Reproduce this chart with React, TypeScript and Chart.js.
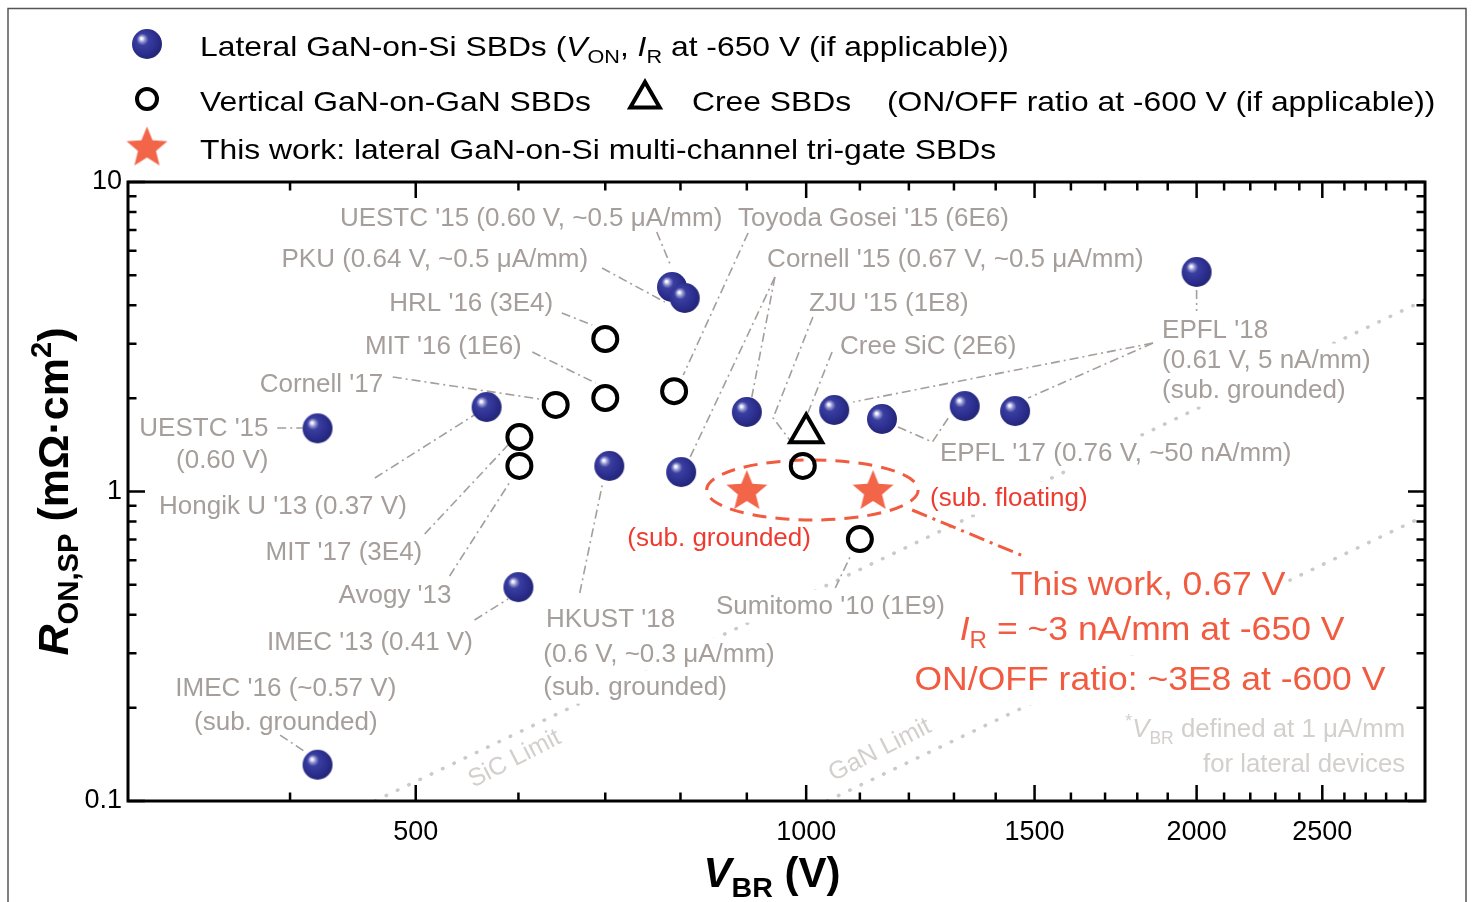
import React, { useEffect, useRef } from 'react';
import { Chart, registerables } from 'chart.js';

Chart.register(...registerables);

// ---------------- data (V_BR in V, R_ON,SP in mOhm.cm2) ----------------
const lateralGaNOnSi = [
  { x: 420, y: 1.6 },
  { x: 420, y: 0.131 },
  { x: 567, y: 1.875 },
  { x: 600, y: 0.491 },
  { x: 705, y: 1.21 },
  { x: 788, y: 4.58 },
  { x: 806, y: 4.22 },
  { x: 801, y: 1.156 },
  { x: 900, y: 1.807 },
  { x: 1051, y: 1.834 },
  { x: 1144, y: 1.715 },
  { x: 1325, y: 1.889 },
  { x: 1449, y: 1.82 },
  { x: 2000, y: 5.12 },
];
const verticalGaNOnGaN = [
  { x: 700, y: 3.11 },
  { x: 700, y: 2.005 },
  { x: 641, y: 1.904 },
  { x: 601, y: 1.5 },
  { x: 601, y: 1.21 },
  { x: 791, y: 2.11 },
  { x: 994, y: 1.21 },
  { x: 1100, y: 0.702 },
];
const creeSBDs = [{ x: 1000, y: 1.545 }];
const thisWork = [
  { x: 900, y: 1.0 },
  { x: 1126, y: 1.0 },
];
const sicLimit = [
  { x: 465, y: 0.1 },
  { x: 3000, y: 4.16 },
];
const ganLimit = [
  { x: 1038, y: 0.1 },
  { x: 3000, y: 0.835 },
];

const xMajorTicks = [500, 1000, 1500, 2000, 2500];
const xMinorTicks = [400, 600, 700, 800, 900, 1100, 1200, 1300, 1400, 1600, 1700, 1800, 1900, 2100, 2200, 2300, 2400, 2600, 2700, 2800, 2900];
const yMajorTicks = [0.1, 1, 10];
const yMinorTicks = [0.2, 0.3, 0.4, 0.5, 0.6, 0.7, 0.8, 0.9, 2, 3, 4, 5, 6, 7, 8, 9];

type Seg = string | { t: string; it?: boolean; sub?: boolean; sup?: boolean };
type Label = { parts: string | Seg[]; x: number; y: number; align: 'left' | 'right' | 'center' };

// annotation labels, anchored in data space (x = edge/centre per align, y = text middle)
const grayLabels: Label[] = [
  { parts: "UESTC '15 (0.60 V, ~0.5 μA/mm)", x: 437, y: 7.71, align: 'left' },
  { parts: "Toyoda Gosei '15 (6E6)", x: 886, y: 7.71, align: 'left' },
  { parts: 'PKU (0.64 V, ~0.5 μA/mm)', x: 394, y: 5.68, align: 'left' },
  { parts: "Cornell '15 (0.67 V, ~0.5 μA/mm)", x: 933, y: 5.68, align: 'left' },
  { parts: "HRL '16 (3E4)", x: 477, y: 4.096, align: 'left' },
  { parts: "ZJU '15 (1E8)", x: 1005, y: 4.096, align: 'left' },
  { parts: "MIT '16 (1E6)", x: 457, y: 2.974, align: 'left' },
  { parts: 'Cree SiC (2E6)', x: 1062, y: 2.99, align: 'left' },
  { parts: "Cornell '17", x: 379, y: 2.242, align: 'left' },
  { parts: "UESTC '15", x: 385, y: 1.616, align: 'right' },
  { parts: '(0.60 V)', x: 385, y: 1.274, align: 'right' },
  { parts: "EPFL '18", x: 1881, y: 3.35, align: 'left' },
  { parts: '(0.61 V, 5 nA/mm)', x: 1881, y: 2.681, align: 'left' },
  { parts: '(sub. grounded)', x: 1881, y: 2.144, align: 'left' },
  { parts: "Hongik U '13 (0.37 V)", x: 317, y: 0.9044, align: 'left' },
  { parts: "EPFL '17 (0.76 V, ~50 nA/mm)", x: 1268, y: 1.341, align: 'left' },
  { parts: "MIT '17 (3E4)", x: 383, y: 0.6425, align: 'left' },
  { parts: "Avogy '13", x: 436, y: 0.4665, align: 'left' },
  { parts: "IMEC '13 (0.41 V)", x: 384, y: 0.3289, align: 'left' },
  { parts: "IMEC '16 (~0.57 V)", x: 397, y: 0.2335, align: 'center' },
  { parts: '(sub. grounded)', x: 397, y: 0.1813, align: 'center' },
  { parts: "HKUST '18", x: 630, y: 0.3902, align: 'left' },
  { parts: '(0.6 V, ~0.3 μA/mm)', x: 627, y: 0.3008, align: 'left' },
  { parts: '(sub. grounded)', x: 627, y: 0.2352, align: 'left' },
  { parts: "Sumitomo '10 (1E9)", x: 852, y: 0.43, align: 'left' },
];
const redSubLabels: Label[] = [
  { parts: '(sub. grounded)', x: 728, y: 0.7127, align: 'left' },
  { parts: '(sub. floating)', x: 1246, y: 0.96, align: 'left' },
];
const redMainLabels: Label[] = [
  { parts: 'This work, 0.67 V', x: 1835, y: 0.506, align: 'center' },
  { parts: [{ t: 'I', it: true }, { t: 'R', sub: true }, ' = ~3 nA/mm at -650 V'], x: 1848, y: 0.362, align: 'center' },
  { parts: 'ON/OFF ratio: ~3E8 at -600 V', x: 1841, y: 0.2496, align: 'center' },
];
const footnoteLabels: Label[] = [
  { parts: [{ t: '*', sup: true }, { t: 'V', it: true }, { t: 'BR', sub: true }, ' defined at 1 μA/mm'], x: 2896, y: 0.172, align: 'right' },
  { parts: 'for lateral devices', x: 2896, y: 0.1327, align: 'right' },
];
const limitLabels = [
  { text: 'SiC Limit', x: 596, y: 0.1367 },
  { text: 'GaN Limit', x: 1140, y: 0.146 },
];

// dash-dot leader lines (data space)
const leaderLines = [
  [{ x: 391, y: 1.604 }, { x: 409, y: 1.604 }],
  [{ x: 465, y: 1.106 }, { x: 558, y: 1.793 }],
  [{ x: 508, y: 0.729 }, { x: 589, y: 1.413 }],
  [{ x: 531, y: 0.5333 }, { x: 591, y: 1.073 }],
  [{ x: 555, y: 0.3844 }, { x: 589, y: 0.4494 }],
  [{ x: 393, y: 0.1633 }, { x: 411, y: 0.144 }],
  [{ x: 480, y: 2.344 }, { x: 623, y: 1.99 }],
  [{ x: 615, y: 2.823 }, { x: 688, y: 2.242 }],
  [{ x: 648, y: 3.773 }, { x: 684, y: 3.451 }],
  [{ x: 696, y: 5.274 }, { x: 778, y: 4.096 }],
  [{ x: 767, y: 6.893 }, { x: 787, y: 5.314 }],
  [{ x: 902, y: 6.842 }, { x: 804, y: 2.379 }],
  [{ x: 946, y: 4.932 }, { x: 814, y: 1.293 }],
  [{ x: 946, y: 4.932 }, { x: 908, y: 2.02 }],
  [{ x: 1012, y: 3.664 }, { x: 943, y: 1.728 }, { x: 975, y: 1.435 }],
  [{ x: 1047, y: 2.823 }, { x: 1003, y: 1.793 }],
  [{ x: 1851, y: 3.018 }, { x: 1087, y: 1.946 }],
  [{ x: 1851, y: 3.018 }, { x: 1483, y: 2.005 }],
  [{ x: 2000, y: 4.477 }, { x: 2000, y: 3.831 }],
  [{ x: 1177, y: 1.616 }, { x: 1251, y: 1.445 }, { x: 1287, y: 1.728 }],
  [{ x: 669, y: 0.47 }, { x: 697, y: 1.073 }],
  [{ x: 1053, y: 0.4878 }, { x: 1081, y: 0.6143 }],
];
const thisWorkLeader = [{ x: 1207, y: 0.8714 }, { x: 1470, y: 0.619 }];
const thisWorkEllipse = { xMin: 838, xMax: 1220, yMin: 0.809, yMax: 1.264 };

// ---------------- styling ----------------
const FAMILY = '"Liberation Sans", Arial, Helvetica, sans-serif';
const GRAY = '#a59e9a';
const LIGHT = '#d3cfcd';
const DOTS = '#cdc9c7';
const RED = '#f15b40';
const RED2 = '#ee3b30';
const STAR = '#f26549';

function norm(parts: string | Seg[]) {
  const arr = typeof parts === 'string' ? [parts] : parts;
  return arr.map((p) => (typeof p === 'string' ? { t: p } : p)) as { t: string; it?: boolean; sub?: boolean; sup?: boolean }[];
}
function segStyle(p: any, size: number, bold?: boolean) {
  const s = p.sub || p.sup ? size * 0.68 : size;
  const dy = p.sub ? size * 0.24 : p.sup ? -size * 0.4 : 0;
  return { font: `${p.it ? 'italic ' : ''}${bold ? 'bold ' : ''}${s}px ${FAMILY}`, dy };
}
function textRun(
  ctx: CanvasRenderingContext2D,
  parts: string | Seg[],
  x: number,
  y: number,
  o: { size: number; color: string; align: 'left' | 'right' | 'center'; bold?: boolean; sx?: number; bg?: [number, number] }
) {
  const segs = norm(parts);
  const sx = o.sx ?? 1;
  const ws: number[] = [];
  let w = 0;
  segs.forEach((p) => {
    ctx.font = segStyle(p, o.size, o.bold).font;
    const m = ctx.measureText(p.t).width * sx;
    ws.push(m);
    w += m;
  });
  const x0 = o.align === 'left' ? x : o.align === 'right' ? x - w : x - w / 2;
  if (o.bg) {
    ctx.fillStyle = '#fff';
    ctx.fillRect(x0 - 3, y - o.size * o.bg[0], w + 6, o.size * (o.bg[0] + o.bg[1]));
  }
  ctx.fillStyle = o.color;
  ctx.textBaseline = 'alphabetic';
  ctx.textAlign = 'left';
  let cx = x0;
  segs.forEach((p, i) => {
    const st = segStyle(p, o.size, o.bold);
    ctx.font = st.font;
    ctx.save();
    ctx.translate(cx, y + st.dy);
    ctx.scale(sx, 1);
    ctx.fillText(p.t, 0, 0);
    ctx.restore();
    cx += ws[i];
  });
  return w;
}

function makeSphere(r: number) {
  const c = document.createElement('canvas');
  const s = Math.ceil(2 * r + 2);
  c.width = s;
  c.height = s;
  const g = c.getContext('2d')!;
  const cx = s / 2,
    cy = s / 2;
  const grad = g.createRadialGradient(cx - r * 0.38, cy - r * 0.38, 0, cx - r * 0.15, cy - r * 0.15, r * 1.1);
  grad.addColorStop(0, '#ffffff');
  grad.addColorStop(0.07, '#eeeefa');
  grad.addColorStop(0.2, '#8d90cf');
  grad.addColorStop(0.36, '#3a3e9e');
  grad.addColorStop(0.7, '#2e3192');
  grad.addColorStop(1, '#24277a');
  g.fillStyle = grad;
  g.beginPath();
  g.arc(cx, cy, r, 0, Math.PI * 2);
  g.fill();
  return c;
}
function makeStar(R: number, color: string) {
  const c = document.createElement('canvas');
  const s = Math.ceil(2 * R + 4);
  c.width = s;
  c.height = s;
  const g = c.getContext('2d')!;
  const cx = s / 2,
    cy = s / 2;
  g.fillStyle = color;
  g.beginPath();
  for (let i = 0; i < 10; i++) {
    const a = -Math.PI / 2 + (i * Math.PI) / 5;
    const rr = i % 2 === 0 ? R : R * 0.44;
    const px = cx + rr * Math.cos(a),
      py = cy + rr * Math.sin(a);
    if (i === 0) g.moveTo(px, py);
    else g.lineTo(px, py);
  }
  g.closePath();
  g.fill();
  return c;
}

function tri(ctx: CanvasRenderingContext2D, x: number, y: number, r: number) {
  ctx.beginPath();
  for (let i = 0; i < 3; i++) {
    const a = (i * 2 * Math.PI) / 3;
    const px = x + Math.sin(a) * r,
      py = y - Math.cos(a) * r;
    if (i === 0) ctx.moveTo(px, py);
    else ctx.lineTo(px, py);
  }
  ctx.closePath();
}

export default function App() {
  const ref = useRef<HTMLCanvasElement>(null);
  useEffect(() => {
    const canvas = ref.current!;
    const sphere = makeSphere(15);
    const star = makeStar(21.5, STAR);

    const annotations = {
      id: 'annotations',
      afterDatasetDraw(chart: any, args: any) {
        if (chart.data.datasets[args.index].label !== 'GaN limit') return;
        const ctx: CanvasRenderingContext2D = chart.ctx;
        const xs = chart.scales.x,
          ys = chart.scales.y;
        const X = (v: number) => xs.getPixelForValue(v);
        const Y = (v: number) => ys.getPixelForValue(v);
        ctx.save();
        // limit labels
        limitLabels.forEach((l) => {
          ctx.save();
          ctx.translate(X(l.x), Y(l.y));
          ctx.rotate((-27 * Math.PI) / 180);
          ctx.font = `25px ${FAMILY}`;
          ctx.fillStyle = LIGHT;
          ctx.textAlign = 'center';
          ctx.textBaseline = 'middle';
          ctx.fillText(l.text, 0, 0);
          ctx.restore();
        });
        const place = (labels: Label[], size: number, color: string, sx: number, bg?: [number, number]) =>
          labels.forEach((l) => textRun(ctx, l.parts, X(l.x), Y(l.y) + size * 0.358, { size, color, align: l.align, sx, bg }));
        place(grayLabels, 26, GRAY, 1, [0.95, 0.32]);
        place(redSubLabels, 26, RED2, 1, [0.95, 0.32]);
        place(redMainLabels, 34, RED, 1.045, [1.02, 0.45]);
        place(footnoteLabels, 25.8, LIGHT, 1);

        // leader lines
        ctx.strokeStyle = GRAY;
        ctx.lineWidth = 1.6;
        ctx.setLineDash([9, 4, 2, 4]);
        leaderLines.forEach((pl) => {
          ctx.beginPath();
          pl.forEach((p, i) => (i === 0 ? ctx.moveTo(X(p.x), Y(p.y)) : ctx.lineTo(X(p.x), Y(p.y))));
          ctx.stroke();
        });
        // this work ellipse + leader
        ctx.strokeStyle = RED;
        ctx.lineWidth = 3;
        ctx.setLineDash([14, 9]);
        const ex0 = X(thisWorkEllipse.xMin),
          ex1 = X(thisWorkEllipse.xMax),
          ey0 = Y(thisWorkEllipse.yMax),
          ey1 = Y(thisWorkEllipse.yMin);
        ctx.beginPath();
        ctx.ellipse((ex0 + ex1) / 2, (ey0 + ey1) / 2, (ex1 - ex0) / 2, (ey1 - ey0) / 2, 0, 0, Math.PI * 2);
        ctx.stroke();
        ctx.setLineDash([16, 6, 3, 6]);
        ctx.beginPath();
        ctx.moveTo(X(thisWorkLeader[0].x), Y(thisWorkLeader[0].y));
        ctx.lineTo(X(thisWorkLeader[1].x), Y(thisWorkLeader[1].y));
        ctx.stroke();
        ctx.restore();
      },
      afterDraw(chart: any) {
        const ctx: CanvasRenderingContext2D = chart.ctx;
        const xs = chart.scales.x,
          ys = chart.scales.y;
        const { left, right, top, bottom } = chart.chartArea;
        ctx.save();
        ctx.setLineDash([]);
        ctx.strokeStyle = '#000';
        ctx.lineWidth = 2.5;
        const tickX = (v: number, len: number) => {
          const px = xs.getPixelForValue(v);
          ctx.beginPath();
          ctx.moveTo(px, bottom);
          ctx.lineTo(px, bottom - len);
          ctx.moveTo(px, top);
          ctx.lineTo(px, top + len);
          ctx.stroke();
        };
        const tickY = (v: number, len: number) => {
          const py = ys.getPixelForValue(v);
          ctx.beginPath();
          ctx.moveTo(left, py);
          ctx.lineTo(left + len, py);
          ctx.moveTo(right, py);
          ctx.lineTo(right - len, py);
          ctx.stroke();
        };
        xMajorTicks.forEach((v) => tickX(v, 16));
        xMinorTicks.forEach((v) => tickX(v, 8.5));
        yMajorTicks.forEach((v) => tickY(v, 17));
        yMinorTicks.forEach((v) => tickY(v, 8.5));
        ctx.lineWidth = 3;
        ctx.strokeRect(left, top, right - left, bottom - top);

        // outer frame
        ctx.strokeStyle = '#555';
        ctx.lineWidth = 1.5;
        ctx.strokeRect(8, 8.5, 1458, 910);

        // axis titles
        textRun(ctx, [{ t: 'V', it: true }, { t: 'BR', sub: true }, ' (V)'], 772, 887, { size: 42, bold: true, color: '#000', align: 'center' });
        ctx.save();
        ctx.translate(68, (top + bottom) / 2);
        ctx.rotate(-Math.PI / 2);
        textRun(ctx, [{ t: 'R', it: true }, { t: 'ON,SP', sub: true }, ' (mΩ·cm', { t: '2', sup: true }, ')'], 0, 0, {
          size: 43,
          bold: true,
          color: '#000',
          align: 'center',
        });
        ctx.restore();

        // legend
        ctx.drawImage(sphere, 147 - sphere.width / 2, 44 - sphere.height / 2);
        ctx.lineWidth = 4;
        ctx.strokeStyle = '#000';
        ctx.beginPath();
        ctx.arc(147, 99, 10, 0, Math.PI * 2);
        ctx.stroke();
        tri(ctx, 645, 99, 17);
        ctx.stroke();
        ctx.drawImage(star, 147 - star.width / 2, 148 - star.height / 2);
        const lg = { size: 28, color: '#000', align: 'left' as const, sx: 1.137 };
        textRun(ctx, ['Lateral GaN-on-Si SBDs (', { t: 'V', it: true }, { t: 'ON', sub: true }, ', ', { t: 'I', it: true }, { t: 'R', sub: true }, ' at -650 V (if applicable))'], 200, 56, lg);
        textRun(ctx, 'Vertical GaN-on-GaN SBDs', 200, 111, lg);
        textRun(ctx, 'Cree SBDs', 692, 111, lg);
        textRun(ctx, '(ON/OFF ratio at -600 V (if applicable))', 887, 111, lg);
        textRun(ctx, 'This work: lateral GaN-on-Si multi-channel tri-gate SBDs', 200, 159, lg);
        ctx.restore();
      },
    };

    const tickFont = { family: FAMILY, size: 27 };
    const chart = new Chart(canvas, {
      type: 'scatter',
      data: {
        datasets: [
          { label: 'Lateral GaN-on-Si SBDs', data: lateralGaNOnSi, pointStyle: sphere as any, pointRadius: 15, order: 1 },
          {
            label: 'Vertical GaN-on-GaN SBDs',
            data: verticalGaNOnGaN,
            pointStyle: 'circle',
            pointRadius: 12,
            pointBorderWidth: 4,
            pointBorderColor: '#000',
            pointBackgroundColor: 'rgba(0,0,0,0)',
            order: 2,
          },
          {
            label: 'Cree SBDs',
            data: creeSBDs,
            pointStyle: 'triangle',
            pointRadius: 18.5,
            pointBorderWidth: 4,
            pointBorderColor: '#000',
            pointBackgroundColor: 'rgba(0,0,0,0)',
            order: 3,
          },
          { label: 'This work', data: thisWork, pointStyle: star as any, pointRadius: 20, order: 0 },
          {
            label: 'SiC limit',
            data: sicLimit,
            showLine: true,
            pointRadius: 0,
            borderColor: DOTS,
            borderWidth: 3.5,
            borderDash: [0.5, 12],
            borderCapStyle: 'round',
            order: 11,
          },
          {
            label: 'GaN limit',
            data: ganLimit,
            showLine: true,
            pointRadius: 0,
            borderColor: DOTS,
            borderWidth: 3.5,
            borderDash: [0.5, 12],
            borderCapStyle: 'round',
            order: 10,
          },
        ] as any,
      },
      options: {
        animation: false,
        responsive: false,
        maintainAspectRatio: false,
        events: [],
        layout: { padding: { top: 182, right: 47, left: 0, bottom: 0 } },
        plugins: { legend: { display: false }, tooltip: { enabled: false }, title: { display: false } },
        scales: {
          x: {
            type: 'logarithmic',
            position: 'bottom',
            min: 300,
            max: 3000,
            border: { display: false },
            grid: { display: false, drawTicks: false },
            ticks: { font: tickFont, color: '#000', padding: 15, autoSkip: false, maxRotation: 0, callback: (v: any) => String(v) },
            afterBuildTicks: (s: any) => {
              s.ticks = xMajorTicks.map((v) => ({ value: v }));
            },
            afterFit: (s: any) => {
              s.height = 101;
            },
          },
          y: {
            type: 'logarithmic',
            position: 'left',
            min: 0.1,
            max: 10,
            border: { display: false },
            grid: { display: false, drawTicks: false },
            ticks: { font: tickFont, color: '#000', padding: 6, autoSkip: false, callback: (v: any) => String(v) },
            afterBuildTicks: (s: any) => {
              s.ticks = yMajorTicks.map((v) => ({ value: v }));
            },
            afterFit: (s: any) => {
              s.width = 128;
            },
          },
        },
      } as any,
      plugins: [annotations as any],
    });
    return () => chart.destroy();
  }, []);
  return (
    <div style={{ position: 'absolute', left: 0, top: 0, width: 1472, height: 902, overflow: 'hidden', background: '#fff' }}>
      <canvas ref={ref} width={1472} height={902} style={{ display: 'block', width: 1472, height: 902 }} />
    </div>
  );
}
